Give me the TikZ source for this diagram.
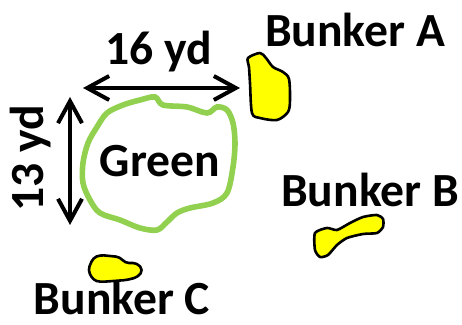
\documentclass[tikz,border=0pt]{standalone}
\usepackage{fontspec}
\setmainfont{Carlito}
\usetikzlibrary{arrows.meta}
\definecolor{greenline}{HTML}{92D050}
\definecolor{sand}{RGB}{255,255,0}
\tikzset{
  lbl/.style={font=\fontsize{23.8}{28}\selectfont\bfseries, anchor=base, inner sep=0pt},
  dim/.style={line width=2pt, {Straight Barb[length=11pt,width=12pt]}-{Straight Barb[length=11pt,width=12pt]}},
  bunker/.style={draw=black, line width=1.3pt, fill=sand, line join=round},
}
\begin{document}
\begin{tikzpicture}[x=0.5pt, y=-0.5pt]
\useasboundingbox (0,0) rectangle (462,325);
% green outline
\draw[greenline, line width=2.8pt] plot[smooth cycle, tension=0.55] coordinates {
  (155,97) (163,105) (187,107) (207,113) (217,107) (227,110) (233,123) (235,143)
  (233,167) (227,193) (213,203) (190,208) (177,213) (167,222) (157,230) (140,228)
  (120,220) (100,213) (90,200) (83,183) (83,163) (88,143) (97,127) (107,113)
  (123,105) (140,100)};
\node[lbl] (green) at (160,177) {Green};
% dimensions
\coordinate (wL) at (83,88);
\coordinate (wR) at (240,88);
\coordinate (hT) at (70,97);
\coordinate (hB) at (70,225);
\draw[dim] (wL) -- (wR);
\draw[dim] (hT) -- (hB);
\node[lbl] (width) at (159,65) {16 yd};
\node[lbl, rotate=90] (height) at (43,158) {13 yd};
% bunkers
\draw[bunker] plot[smooth cycle, tension=0.5] coordinates {
  (248,58) (260,53) (266,58) (273,67) (283,72) (289,79) (290,100) (288,112)
  (277,120) (260,118) (252,113) (250,83) (249,67)};
\node[lbl] (bunkerA) at (355,47) {Bunker A};
\draw[bunker] plot[smooth cycle, tension=0.4] coordinates {
  (315,233) (327,228) (337,230) (350,223) (363,217) (377,215) (383,219) (383,227)
  (377,233) (363,234) (347,238) (337,245) (328,255) (320,257) (315,250)};
\node[lbl] (bunkerB) at (370,207) {Bunker B};
\draw[bunker, rounded corners=2pt] (88,270) -- (93,258) -- (100,255) -- (120,257)
  -- (125,263) -- (137,263) -- (143,270) -- (138,277) -- (127,280) -- (100,282)
  -- (93,280) -- cycle;
\node[lbl] (bunkerC) at (122,315) {Bunker C};
\end{tikzpicture}
\end{document}
